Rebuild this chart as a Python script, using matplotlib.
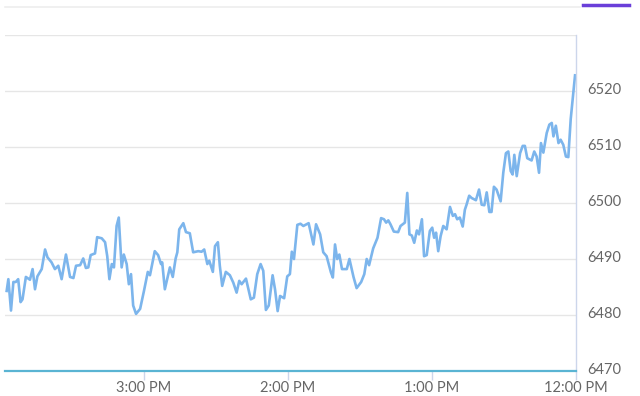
import matplotlib.pyplot as plt
from matplotlib.lines import Line2D
from matplotlib.transforms import ScaledTranslation

# minutes after 12:00 PM (axis runs right-to-left) and price
minutes = [237.2, 236.5, 235.4, 234.4, 233.4, 232.4, 231.4, 230.6, 229.2, 227.5,
           226.4, 225.4, 224.4, 222.6, 221.2, 220.2, 218.5, 217.1, 215.7, 214.3,
           212.5, 210.8, 209.4, 208.3, 206.6, 205.3, 204.2, 203.2, 202.2, 200.4,
           199.5, 197.6, 196.2, 195.3, 194.4, 193.4, 192.5, 191.4, 190.5, 189.3,
           188.4, 187.2, 186.3, 185.4, 184.5, 183.3, 181.6, 180.0, 178.4, 177.5,
           175.5, 174.1, 172.9, 172.4, 171.3, 169.2, 168.0, 166.8, 166.1, 165.3,
           163.6, 162.5, 160.9, 159.5, 157.4, 156.0, 154.9, 153.6, 152.8, 151.3,
           150.4, 149.2, 148.4, 147.4, 145.9, 144.2, 142.8, 141.4, 140.3, 139.3,
           137.5, 135.5, 134.2, 132.8, 131.4, 130.3, 129.2, 128.0, 126.4, 125.4,
           124.3, 123.3, 121.6, 120.3, 119.2, 118.4, 117.5, 116.1, 114.8, 113.6,
           111.4, 109.4, 108.3, 106.6, 105.3, 103.9, 102.1, 101.3, 100.4, 99.5,
           98.6, 97.5, 95.5, 94.4, 92.7, 91.4, 89.5, 88.2, 87.2, 86.2,
           84.5, 82.7, 81.2, 80.0, 79.1, 78.2, 77.3, 75.9, 74.1, 73.1,
           71.3, 70.3, 69.4, 68.4, 67.4, 66.3, 65.4, 64.2, 63.3, 62.2,
           60.9, 59.9, 59.1, 58.3, 57.4, 56.4, 55.3, 53.9, 52.5, 51.3,
           50.4, 49.5, 48.4, 47.2, 46.3, 45.6, 44.5, 43.5, 41.7, 40.4,
           39.3, 38.2, 37.2, 36.1, 35.2, 34.2, 33.1, 31.4, 30.3, 29.2,
           28.2, 27.2, 26.4, 25.7, 24.7, 23.3, 22.2, 21.3, 20.3, 18.5,
           17.4, 16.4, 15.4, 14.6, 13.6, 12.2, 11.1, 10.1, 9.4, 8.4,
           7.3, 6.4, 5.3, 4.2, 3.2, 2.2, 0.4]
prices = [6484.3, 6486.4, 6480.8, 6485.9, 6485.9, 6486.4, 6482.3, 6482.8, 6486.8, 6486.3,
          6488.2, 6484.6, 6486.9, 6488.2, 6491.7, 6490.3, 6489.4, 6488.2, 6488.8, 6486.4,
          6490.8, 6486.8, 6486.6, 6488.8, 6488.9, 6490.1, 6488.4, 6488.5, 6490.7, 6491.0,
          6493.9, 6493.7, 6493.0, 6490.5, 6486.4, 6489.1, 6488.5, 6495.9, 6497.4, 6488.5,
          6490.8, 6489.1, 6485.5, 6487.3, 6481.7, 6480.2, 6481.1, 6484.3, 6487.7, 6487.1,
          6491.4, 6490.7, 6489.1, 6489.4, 6484.6, 6488.5, 6486.8, 6490.1, 6491.2, 6495.3,
          6496.4, 6494.8, 6494.6, 6491.2, 6491.4, 6491.3, 6491.7, 6489.1, 6489.7, 6487.7,
          6492.3, 6493.0, 6488.8, 6485.2, 6487.7, 6487.1, 6485.8, 6484.0, 6486.1, 6485.5,
          6486.5, 6482.8, 6483.1, 6487.3, 6489.1, 6487.9, 6480.9, 6481.7, 6487.1, 6484.6,
          6480.7, 6483.4, 6483.0, 6486.9, 6487.3, 6491.3, 6490.0, 6496.1, 6496.3, 6495.9,
          6496.4, 6492.6, 6496.2, 6494.4, 6491.2, 6490.5, 6487.6, 6486.7, 6492.6, 6490.0,
          6490.8, 6488.2, 6488.2, 6490.0, 6486.8, 6484.8, 6485.9, 6487.3, 6490.0, 6488.9,
          6491.9, 6493.8, 6497.3, 6497.1, 6496.5, 6496.9, 6496.2, 6494.9, 6494.8, 6495.9,
          6496.5, 6501.8, 6494.4, 6494.2, 6492.9, 6495.1, 6494.4, 6497.1, 6490.5, 6490.7,
          6495.0, 6495.6, 6493.8, 6494.7, 6491.4, 6494.1, 6495.9, 6495.3, 6499.3, 6497.7,
          6498.0, 6497.1, 6497.4, 6495.8, 6498.8, 6499.7, 6501.3, 6500.9, 6500.5, 6502.4,
          6499.7, 6499.6, 6501.9, 6498.4, 6498.4, 6502.9, 6502.4, 6500.3, 6505.4, 6508.9,
          6509.2, 6505.7, 6505.1, 6508.6, 6504.8, 6508.9, 6510.2, 6510.2, 6508.0, 6507.6,
          6509.2, 6508.3, 6505.4, 6510.7, 6509.0, 6512.5, 6514.0, 6514.3, 6511.9, 6513.8,
          6510.7, 6511.3, 6510.4, 6508.3, 6508.2, 6515.0, 6522.8]

tick_minutes = [180, 120, 60, 0]
tick_labels = ['3:00 PM', '2:00 PM', '1:00 PM', '12:00 PM']
y_ticks = [6470, 6480, 6490, 6500, 6510, 6520]

fig = plt.figure(figsize=(6.4, 3.96), dpi=100)
ax = fig.add_axes([0.0078, 0.0631, 0.8922, 0.8485])

ax.plot(minutes, prices, color='#7cb5ec', lw=1.9, solid_joinstyle='round')

ax.set_xlim(237.9, 0)
ax.set_ylim(6470, 6530)

for v in [6480, 6490, 6500, 6510, 6520, 6530]:
    ax.axhline(v, color='#e6e6e6', lw=1, zorder=0)

for s in ['left', 'top']:
    ax.spines[s].set_visible(False)
ax.spines['right'].set_color('#ccd6eb')
ax.spines['right'].set_linewidth(1)
ax.spines['bottom'].set_color('#5ab4d3')
ax.spines['bottom'].set_linewidth(1.6)

ax.set_xticks(tick_minutes)
ax.set_xticklabels(tick_labels)
ax.set_yticks(y_ticks)
ax.yaxis.tick_right()
ax.tick_params(axis='x', length=6.5, width=1, color='#ccd6eb', labelsize=10.5,
               labelcolor='#666666', pad=0.5)
ax.tick_params(axis='y', length=0, labelsize=10.5, labelcolor='#666666', pad=8)
for lab in ax.get_xticklabels() + ax.get_yticklabels():
    lab.set_fontfamily('Lato')
# y labels sit a little above their gridlines
shift = ScaledTranslation(0, 3 / 100, fig.dpi_scale_trans)
for lab in ax.get_yticklabels():
    lab.set_transform(lab.get_transform() + shift)

# top strip line and purple marker
fig.add_artist(Line2D([5 / 640, 580 / 640], [1 - 6.5 / 396, 1 - 6.5 / 396],
                      color='#eeeeee', lw=1.2))
fig.add_artist(Line2D([583 / 640, 629 / 640], [1 - 4.5 / 396, 1 - 4.5 / 396],
                      color='#6a3fd9', lw=2.5))

fig.savefig('out.png', dpi=100)
